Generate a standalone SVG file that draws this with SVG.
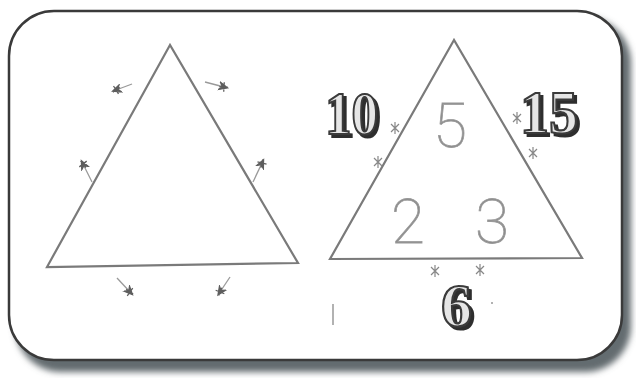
<svg xmlns="http://www.w3.org/2000/svg" width="636" height="378" viewBox="0 0 636 378">
<defs>
<filter id="blur" x="-10%" y="-10%" width="120%" height="120%"><feGaussianBlur stdDeviation="3"/></filter>
<filter id="drop" x="-20%" y="-20%" width="150%" height="150%">
<feOffset in="SourceAlpha" dx="3" dy="3" result="off"/>
<feFlood flood-color="#2e2e2e"/>
<feComposite in2="off" operator="in" result="sh"/>
<feMerge><feMergeNode in="sh"/><feMergeNode in="SourceGraphic"/></feMerge>
</filter>
<marker id="blob" viewBox="-6 -6 12 12" markerWidth="11" markerHeight="11" refX="0" refY="0" orient="auto" markerUnits="userSpaceOnUse">
<path d="M-5,-4 L4,0 L-5,4 L-2,0 Z M-1,-5 L1,5 M-5,1 L4,-1" fill="#5e5e5e" stroke="#5e5e5e" stroke-width="1.4"/>
</marker>
</defs>
<style>
.tri{fill:none;stroke:#7a7a7a;stroke-width:2.2;stroke-linejoin:miter}
.arr{fill:none;stroke:#999;stroke-width:1.3;marker-end:url(#blob)}
.big{font-family:"Liberation Serif",serif;font-weight:bold;font-size:62px;fill:#e6e6e6;stroke:#3a3a3a;stroke-width:2.2;filter:url(#drop)}
.thin{font-family:Roboto,"Liberation Sans",sans-serif;font-weight:100;font-size:62px;fill:#8c8c8c;stroke:#9a9a9a;stroke-width:0.8;text-anchor:middle}
.star{fill:none;stroke:#888;stroke-width:1.2}
</style>
<rect width="636" height="378" fill="#ffffff"/>
<g id="frame">
<rect x="15" y="17" width="616" height="355" rx="46" fill="#646c70" filter="url(#blur)"/>
<rect x="9" y="11" width="613" height="349" rx="45" fill="#ffffff" stroke="#3a3a3a" stroke-width="2.5"/>
</g>
<g id="left-triangle">
<polygon class="tri" points="170,45 47,267 298,263"/>
</g>
<g id="right-triangle">
<polygon class="tri" points="454,40 330,259 582,258"/>
</g>
<g id="connectors">
<line class="arr" x1="132" y1="84" x2="116" y2="90"/>
<line class="arr" x1="205" y1="82" x2="224" y2="87"/>
<line class="arr" x1="92" y1="182" x2="83" y2="164"/>
<line class="arr" x1="253" y1="182" x2="262" y2="163"/>
<line class="arr" x1="117" y1="278" x2="130" y2="292"/>
<line class="arr" x1="230" y1="277" x2="220" y2="292"/>
</g>
<g id="marks">
<path class="star" d="M391,124 L399,132 M399,124 L391,132 M395,122 L395,134"/>
<path class="star" d="M374,158 L382,166 M382,158 L374,166 M378,156 L378,168"/>
<path class="star" d="M513,114 L521,122 M521,114 L513,122 M517,112 L517,124"/>
<path class="star" d="M529,149 L537,157 M537,149 L529,157 M533,147 L533,159"/>
<path class="star" d="M431,267 L439,275 M439,267 L431,275 M435,265 L435,277"/>
<path class="star" d="M476,266 L484,274 M484,266 L476,274 M480,264 L480,276"/>
<line x1="333" y1="304" x2="333" y2="325" stroke="#999" stroke-width="1.5"/>
<circle cx="492" cy="303" r="1" fill="#999"/>
</g>
<g id="label-10"><text class="big" x="325" y="134" textLength="53" lengthAdjust="spacingAndGlyphs">10</text></g>
<g id="label-15"><text class="big" x="520" y="133" textLength="58" lengthAdjust="spacingAndGlyphs">15</text></g>
<g id="label-6"><text class="big" x="441" y="326" textLength="31" lengthAdjust="spacingAndGlyphs">6</text></g>
<g id="label-5"><text class="thin" x="450" y="147">5</text></g>
<g id="label-2"><text class="thin" x="408" y="243">2</text></g>
<g id="label-3"><text class="thin" x="492" y="243">3</text></g>
</svg>
